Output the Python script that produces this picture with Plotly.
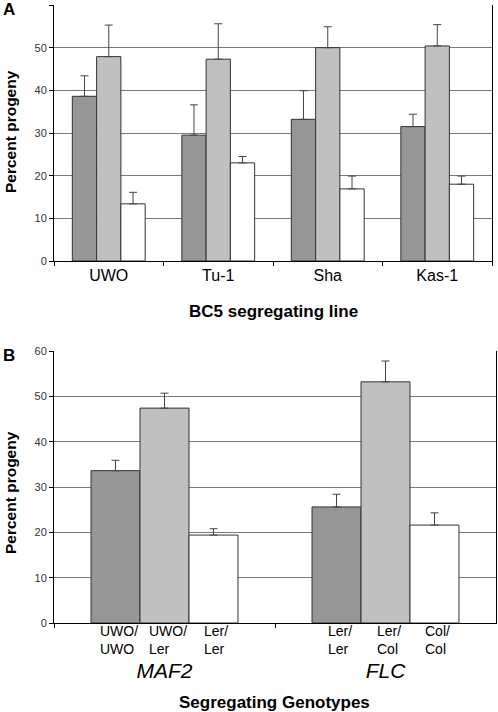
import plotly.graph_objects as go

# ---------------- data ----------------
lines_a = ["UWO", "Tu-1", "Sha", "Kas-1"]
a_dark = [38.6, 29.5, 33.2, 31.5]
a_dark_err = [4.8, 7.1, 6.7, 2.9]
a_light = [47.9, 47.3, 50.0, 50.4]
a_light_err = [7.4, 8.3, 4.9, 5.0]
a_white = [13.4, 23.0, 16.9, 18.0]
a_white_err = [2.7, 1.5, 3.0, 1.9]

genes_b = ["MAF2", "FLC"]
b_dark = [33.6, 25.6]
b_dark_err = [2.3, 2.8]
b_light = [47.4, 53.2]
b_light_err = [3.3, 4.6]
b_white = [19.4, 21.6]
b_white_err = [1.4, 2.7]
b_sublabels = [["UWO/<br>UWO", "UWO/<br>Ler", "Ler/<br>Ler"],
               ["Ler/<br>Ler", "Ler/<br>Col", "Col/<br>Col"]]

colors = ["#969696", "#c0c0c0", "#ffffff"]
FONT = "Arial, Liberation Sans, sans-serif"
W, H = 498, 712

fig = go.Figure()


def add_bars(x, series, errs, xa, ya):
    for vals, err, col in zip(series, errs, colors):
        fig.add_trace(go.Bar(
            x=x, y=vals, xaxis=xa, yaxis=ya,
            marker=dict(color=col, line=dict(color="#333333", width=1)),
            error_y=dict(type="data", symmetric=False, array=err,
                         arrayminus=[0] * len(err), color="#444444",
                         thickness=1, width=4),
            showlegend=False))


add_bars(lines_a, [a_dark, a_light, a_white],
         [a_dark_err, a_light_err, a_white_err], "x", "y")
add_bars(genes_b, [b_dark, b_light, b_white],
         [b_dark_err, b_light_err, b_white_err], "x2", "y2")


def py(px):
    return 1 - px / H


def pxx(px):
    return px / W


yax = dict(range=[0, 60], dtick=10, showgrid=True, gridcolor="#7a7a7a",
           gridwidth=1, showline=True, linecolor="#000000", linewidth=1,
           mirror=True, ticks="outside", ticklen=4, tickcolor="#000000",
           tickfont=dict(family=FONT, size=11, color="#333333"),
           zeroline=False, fixedrange=True, automargin=False)
xax = dict(showline=True, linecolor="#000000", linewidth=1, ticks="outside",
           ticklen=4, tickcolor="#000000", tickson="boundaries",
           showgrid=False, fixedrange=True, automargin=False)

fig.update_layout(
    width=W, height=H, margin=dict(l=0, r=0, t=0, b=0),
    paper_bgcolor="white", plot_bgcolor="white",
    barmode="group", bargap=0.335, bargroupgap=0,
    xaxis=dict(xax, domain=[pxx(54), pxx(492)], anchor="y",
               tickfont=dict(family=FONT, size=16, color="#000000")),
    yaxis=dict(yax, domain=[py(261), py(5)], anchor="x"),
    xaxis2=dict(xax, domain=[pxx(54), pxx(496)], anchor="y2",
                tickvals=genes_b,
                ticktext=["<i>" + g + "</i>" for g in genes_b],
                ticklabelstandoff=29,
                tickfont=dict(family=FONT, size=21, color="#000000")),
    yaxis2=dict(yax, domain=[py(623), py(351)], anchor="x2"),
)

ann = []


def label(text, x, y, size, xref="paper", angle=0, xshift=0, align="center"):
    ann.append(dict(text=text, x=x, y=y, xref=xref, yref="paper",
                    xanchor="center", yanchor="middle", textangle=angle,
                    showarrow=False, align=align, xshift=xshift,
                    font=dict(family=FONT, size=size, color="#000")))


# panel letters
label("<b>A</b>", pxx(9), py(10), 17)
label("<b>B</b>", pxx(9), py(355), 17)
# y titles
for yc in (132, 493):
    label("<b>Percent progeny</b>", pxx(10), py(yc), 15.5, angle=-90)
# x titles
label("<b>BC5 segregating line</b>", pxx(273), py(311), 17)
label("<b>Segregating Genotypes</b>", pxx(274), py(702), 17)
# genotype sub-labels under each bar of panel B
barw = (1 - 0.335) / 3
for gi, labs in enumerate(b_sublabels):
    for bi, lab in enumerate(labs):
        label(lab, gi + (bi - 1) * barw, py(640), 14, xref="x2",
              xshift=3, align="left")
fig.update_layout(annotations=ann)

fig.write_html("out.html", config={"displayModeBar": False},
               post_script="document.body.style.margin='0';")
